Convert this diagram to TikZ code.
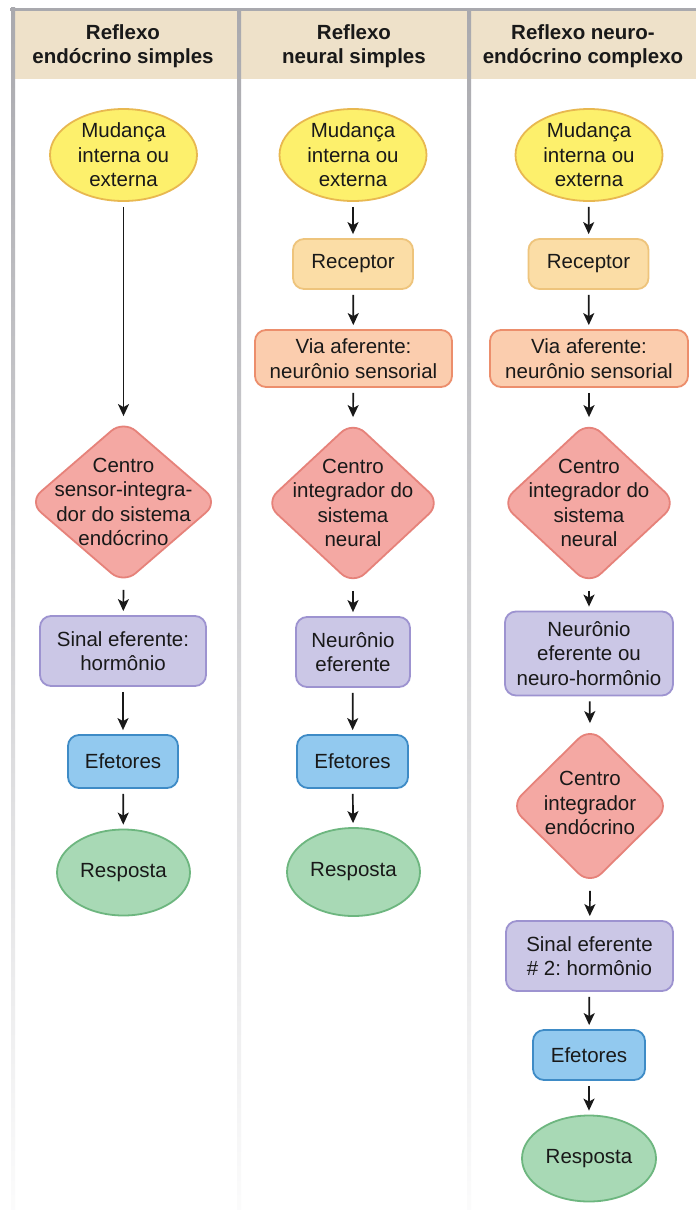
\documentclass[tikz,border=0pt]{standalone}
\usepackage{fontspec}
\setmainfont{Liberation Sans}
\usetikzlibrary{shapes.geometric,arrows.meta}
\frenchspacing
\definecolor{framegray}{HTML}{A9A9AE}
\definecolor{headbg}{HTML}{EEE1C9}
\definecolor{yelF}{HTML}{FDF06C}
\definecolor{yelD}{HTML}{E8B850}
\definecolor{recF}{HTML}{FBDDA6}
\definecolor{recD}{HTML}{EEC47C}
\definecolor{viaF}{HTML}{FBCDAE}
\definecolor{viaD}{HTML}{EC8E6C}
\definecolor{diaF}{HTML}{F4A8A3}
\definecolor{diaD}{HTML}{E6827A}
\definecolor{purF}{HTML}{CBC7E6}
\definecolor{purD}{HTML}{9D93D0}
\definecolor{bluF}{HTML}{92C9EF}
\definecolor{bluD}{HTML}{3E8BC6}
\definecolor{grnF}{HTML}{A8D9B5}
\definecolor{grnD}{HTML}{6DB67F}
\tikzset{
  txt/.style={font=\frenchspacing\fontsize{20.5}{24.5}\selectfont, align=center, text=black!90},
  head/.style={font=\bfseries\fontsize{20.5}{24}\selectfont, align=center, text=black!90},
  ell/.style={ellipse, line width=1.8pt, inner sep=0pt, txt},
  yel/.style={ell, draw=yelD, fill=yelF},
  grn/.style={ell, draw=grnD, fill=grnF},
  bx/.style={rectangle, rounded corners=11pt, line width=1.8pt, inner sep=0pt, txt},
  rec/.style={bx, draw=recD, fill=recF},
  via/.style={bx, draw=viaD, fill=viaF},
  pur/.style={bx, draw=purD, fill=purF},
  blu/.style={bx, draw=bluD, fill=bluF},
  dia/.style={diamond, rounded corners=16pt, line width=1.8pt, draw=diaD, fill=diaF, inner sep=0pt},
  arr/.style={draw=black!90, line width=1.7pt, -{Stealth[length=12pt,width=11pt,inset=3pt]}, shorten <=5pt, shorten >=4pt},
}
\begin{document}
\begin{tikzpicture}[x=1pt,y=-1pt]
\useasboundingbox (0,0) rectangle (696,1210);
\fill[white] (0,0) rectangle (696,1210);
% header band
\fill[headbg] (14,11) rectangle (696,79);
% frame lines
\fill[framegray] (10,7.5) rectangle (696,11);
\shade[top color=framegray, bottom color=white!96!framegray] (11,7.5) rectangle (15,1210);
\shade[top color=framegray, bottom color=white!96!framegray] (237,11) rectangle (241,1210);
\shade[top color=framegray, bottom color=white!96!framegray] (467,11) rectangle (471,1210);
% headers
\node[head] (h1) at (123,46) {Reflexo\\endócrino simples};
\node[head] (h2) at (354,46) {Reflexo\\neural simples};
\node[head] (h3) at (583,46) {Reflexo neuro-\\endócrino complexo};

% column 1
\node[yel, minimum width=147pt, minimum height=92pt] (a1) at (123.5,155) {Mudança\\interna ou\\externa};
\node[dia, minimum width=190pt, minimum height=164pt] (a2) at (123.5,502) {};
\node[txt] (a2t) at (123.5,502) {Centro\\sensor-integra-\\dor do sistema\\endócrino};
\node[pur, minimum width=166pt, minimum height=70pt] (a3) at (123,651) {Sinal eferente:\\hormônio};
\node[blu, minimum width=110pt, minimum height=53pt] (a4) at (123,761.5) {Efetores};
\node[grn, minimum width=133pt, minimum height=86pt] (a5) at (123.5,872.5) {Resposta};
\draw[arr, shorten >=3pt] (a1) -- (a2.north);
\draw[arr] (a2.south) -- (a3);
\draw[arr] (a3) -- (a4);
\draw[arr] (a4) -- (a5);

% column 2
\node[yel, minimum width=147pt, minimum height=92pt] (b1) at (353,155) {Mudança\\interna ou\\externa};
\node[rec, minimum width=120pt, minimum height=50pt] (b2) at (353,264) {Receptor};
\node[via, minimum width=197pt, minimum height=57pt] (b3) at (353.5,358.5) {Via aferente:\\neurônio sensorial};
\node[dia, minimum width=176pt, minimum height=164pt] (b4) at (353,503) {};
\node[txt] (b4t) at (353,503) {Centro\\integrador do\\sistema\\neural};
\node[pur, minimum width=114pt, minimum height=70pt] (b5) at (353,652) {Neurônio\\eferente};
\node[blu, minimum width=111pt, minimum height=53pt] (b6) at (352.5,761.5) {Efetores};
\node[grn, minimum width=133pt, minimum height=88pt] (b7) at (353.5,872) {Resposta};
\draw[arr] (b1) -- (b2);
\draw[arr] (b2) -- (b3);
\draw[arr, shorten >=3pt] (b3) -- (b4.north);
\draw[arr] (b4.south) -- (b5);
\draw[arr] (b5) -- (b6);
\draw[arr] (b6) -- (b7);

% column 3
\node[yel, minimum width=147pt, minimum height=92pt] (c1) at (589,155) {Mudança\\interna ou\\externa};
\node[rec, minimum width=120pt, minimum height=50pt] (c2) at (588.5,264) {Receptor};
\node[via, minimum width=198pt, minimum height=57pt] (c3) at (589,358.5) {Via aferente:\\neurônio sensorial};
\node[dia, minimum width=176pt, minimum height=164pt] (c4) at (589,503) {};
\node[txt] (c4t) at (589,503) {Centro\\integrador do\\sistema\\neural};
\node[pur, minimum width=168pt, minimum height=84pt] (c5) at (589,653.5) {Neurônio\\eferente ou\\neuro-hormônio};
\node[dia, minimum width=160pt, minimum height=158pt] (c6) at (590,806) {};
\node[txt] (c6t) at (590,803) {Centro\\integrador\\endócrino};
\node[pur, minimum width=167pt, minimum height=70pt] (c7) at (589.5,956) {Sinal eferente\\\# 2: hormônio};
\node[blu, minimum width=112pt, minimum height=50pt] (c8) at (589,1055) {Efetores};
\node[grn, minimum width=134pt, minimum height=86pt] (c9) at (589,1158.5) {Resposta};
\draw[arr] (c1) -- (c2);
\draw[arr] (c2) -- (c3);
\draw[arr, shorten >=3pt] (c3) -- (c4.north);
\draw[arr] (c4.south) -- (c5);
\draw[arr, shorten >=3pt] (c5) -- (c6.north);
\draw[arr] (c6.south) -- (c7);
\draw[arr] (c7) -- (c8);
\draw[arr] (c8) -- (c9);
\end{tikzpicture}
\end{document}
